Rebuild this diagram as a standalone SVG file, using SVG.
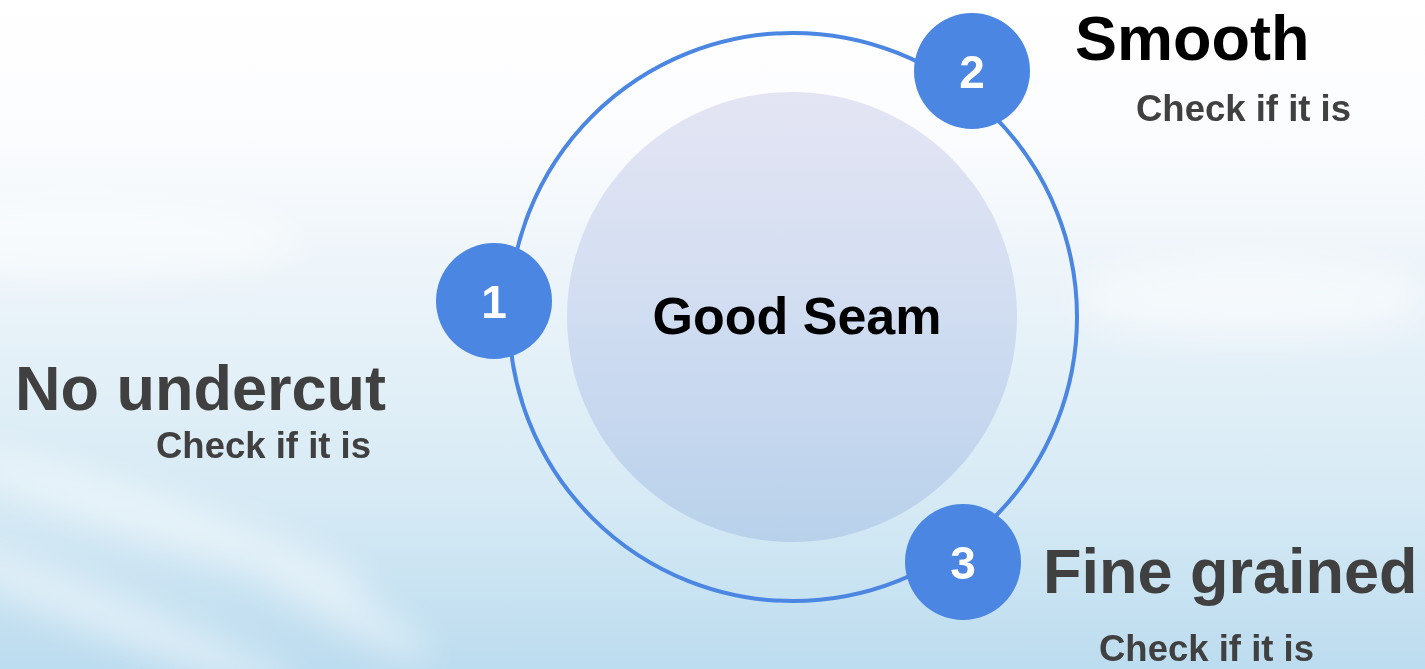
<svg xmlns="http://www.w3.org/2000/svg" width="1425" height="669" viewBox="0 0 1425 669">
  <defs>
    <linearGradient id="sky" x1="0" y1="0" x2="0" y2="1">
      <stop offset="0" stop-color="#ffffff"/>
      <stop offset="0.2" stop-color="#fbfcfe"/>
      <stop offset="0.45" stop-color="#eaf3f9"/>
      <stop offset="0.75" stop-color="#d6eaf5"/>
      <stop offset="1" stop-color="#bcdcef"/>
    </linearGradient>
    <linearGradient id="core" x1="0" y1="0" x2="0" y2="1">
      <stop offset="0" stop-color="#e2e3f3"/>
      <stop offset="0.5" stop-color="#cedbf0"/>
      <stop offset="1" stop-color="#b7cfea"/>
    </linearGradient>
    <filter id="blur" x="-50%" y="-50%" width="200%" height="200%">
      <feGaussianBlur stdDeviation="18"/>
    </filter>
    <style>
      .num { fill: #4a86e2; }
      .numt { font-family: "Liberation Sans", Arial, sans-serif; font-weight: bold; font-size: 46px; fill: #ffffff; text-anchor: middle; }
      .title { font-family: "Liberation Sans", Arial, sans-serif; font-weight: bold; font-size: 63px; }
      .sub { font-family: "Liberation Sans", Arial, sans-serif; font-weight: bold; font-size: 36.5px; fill: #404040; }
    </style>
  </defs>

  <g id="background">
    <rect x="0" y="0" width="1425" height="669" fill="url(#sky)"/>
    <g filter="url(#blur)" opacity="0.5">
      <ellipse cx="160" cy="520" rx="220" ry="22" fill="#ffffff" transform="rotate(18 160 520)"/>
      <ellipse cx="120" cy="620" rx="200" ry="20" fill="#ffffff" transform="rotate(22 120 620)"/>
      <ellipse cx="330" cy="600" rx="120" ry="18" fill="#ffffff" transform="rotate(30 330 600)"/>
      <ellipse cx="80" cy="240" rx="220" ry="40" fill="#ffffff"/>
      <ellipse cx="1250" cy="300" rx="180" ry="40" fill="#ffffff"/>
    </g>
  </g>

  <g id="connectors">
    <circle cx="793" cy="317" r="284" fill="none" stroke="#4a86e2" stroke-width="4"/>
  </g>

  <g id="center">
    <circle cx="792" cy="317" r="225" fill="url(#core)" opacity="0.92"/>
    <text x="797" y="334" font-family="Liberation Sans, Arial, sans-serif" font-weight="bold" font-size="52" fill="#000000" text-anchor="middle">Good Seam</text>
  </g>

  <g id="node1">
    <circle class="num" cx="494" cy="301" r="58"/>
    <text class="numt" x="494" y="318">1</text>
  </g>
  <g id="node2">
    <circle class="num" cx="972" cy="71" r="58"/>
    <text class="numt" x="972" y="88">2</text>
  </g>
  <g id="node3">
    <circle class="num" cx="963" cy="562" r="58"/>
    <text class="numt" x="963" y="579">3</text>
  </g>

  <g id="label1">
    <text class="title" x="15" y="410" fill="#404040">No undercut</text>
    <text class="sub" x="156" y="458">Check if it is</text>
  </g>
  <g id="label2">
    <text class="title" x="1075" y="60" fill="#000000">Smooth</text>
    <text class="sub" x="1136" y="121">Check if it is</text>
  </g>
  <g id="label3">
    <text class="title" x="1043" y="593" fill="#404040">Fine grained</text>
    <text class="sub" x="1099" y="661">Check if it is</text>
  </g>
</svg>
